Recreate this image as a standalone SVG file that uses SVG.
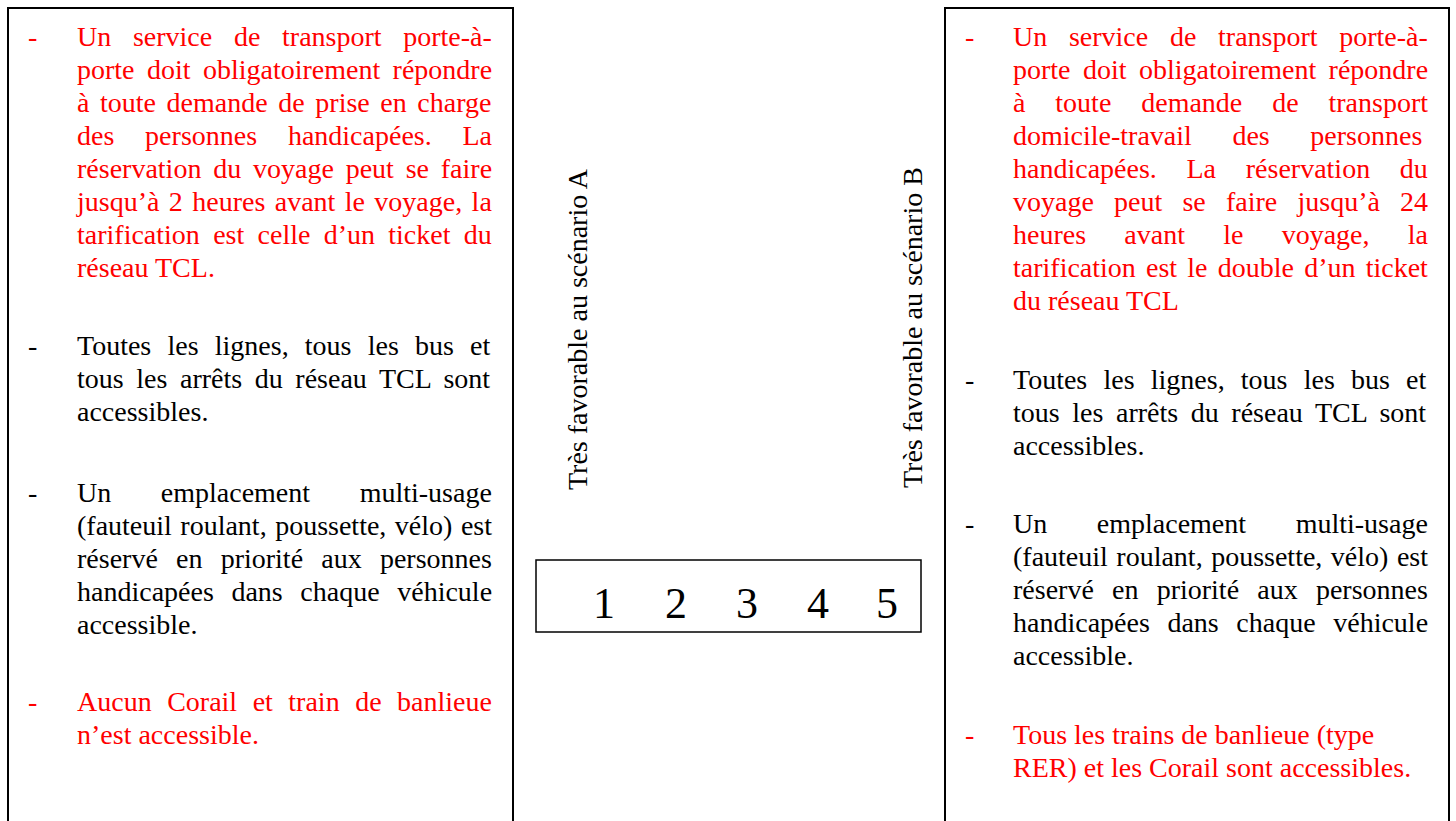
<svg xmlns="http://www.w3.org/2000/svg" width="1456" height="821" viewBox="0 0 1456 821">
<style>
.box{fill:none;stroke:#000;stroke-width:2}
.t{font-family:"Liberation Serif","Times New Roman",serif;font-size:28px;fill:#000}
.r{fill:#ff0000}
.num{font-family:"Liberation Serif","Times New Roman",serif;font-size:44px;fill:#000;text-anchor:middle}
</style>
<rect width="1456" height="821" fill="#fff"/>
<g id="scenario-A">
<rect class="box" x="8" y="8" width="505" height="830"/>
<g class="t r">
<text x="28" y="46">-</text>
<text x="77" y="46" style="word-spacing:14.7px">Un service de transport porte-à-</text>
<text x="77" y="79" style="word-spacing:5.4px">porte doit obligatoirement répondre</text>
<text x="77" y="112" style="word-spacing:3.6px">à toute demande de prise en charge</text>
<text x="77" y="145" style="word-spacing:23.8px">des personnes handicapées. La</text>
<text x="77" y="178" style="word-spacing:4.8px">réservation du voyage peut se faire</text>
<text x="77" y="211" style="word-spacing:2.4px">jusqu’à 2 heures avant le voyage, la</text>
<text x="77" y="244" style="word-spacing:6.3px">tarification est celle d’un ticket du</text>
<text x="77" y="277">réseau TCL.</text>
</g>
<g class="t">
<text x="28" y="355">-</text>
<text x="77" y="355" style="word-spacing:9.2px">Toutes les lignes, tous les bus et</text>
<text x="77" y="388" style="word-spacing:5.6px">tous les arrêts du réseau TCL sont</text>
<text x="77" y="421">accessibles.</text>
<text x="28" y="502">-</text>
<text x="77" y="502" style="word-spacing:42.6px">Un emplacement multi-usage</text>
<text x="77" y="535" style="word-spacing:1.5px">(fauteuil roulant, poussette, vélo) est</text>
<text x="77" y="568" style="word-spacing:11.2px">réservé en priorité aux personnes</text>
<text x="77" y="601" style="word-spacing:10.6px">handicapées dans chaque véhicule</text>
<text x="77" y="634">accessible.</text>
</g>
<g class="t r">
<text x="28" y="711">-</text>
<text x="77" y="711" style="word-spacing:8.5px">Aucun Corail et train de banlieue</text>
<text x="77" y="744">n’est accessible.</text>
</g>
</g>
<g id="scale">
<text class="t" transform="translate(587,490) rotate(-90)">Très favorable au scénario A</text>
<text class="t" transform="translate(922,488) rotate(-90)">Très favorable au scénario B</text>
<rect x="536" y="560" width="385" height="72" fill="none" stroke="#000" stroke-width="1.5"/>
<text class="num" x="604" y="618">1</text>
<text class="num" x="676" y="618">2</text>
<text class="num" x="747" y="618">3</text>
<text class="num" x="818" y="618">4</text>
<text class="num" x="887" y="618">5</text>
</g>
<g id="scenario-B">
<rect class="box" x="945" y="8" width="504" height="830"/>
<g class="t r">
<text x="965" y="46">-</text>
<text x="1013" y="46" style="word-spacing:14.7px">Un service de transport porte-à-</text>
<text x="1013" y="79" style="word-spacing:5.4px">porte doit obligatoirement répondre</text>
<text x="1013" y="112" style="word-spacing:22.9px">à toute demande de transport</text>
<text x="1013" y="145" style="word-spacing:33.6px">domicile-travail des personnes</text>
<text x="1013" y="178" style="word-spacing:22.7px">handicapées. La réservation du</text>
<text x="1013" y="211" style="word-spacing:13.2px">voyage peut se faire jusqu’à 24</text>
<text x="1013" y="244" style="word-spacing:31.25px">heures avant le voyage, la</text>
<text x="1013" y="277" style="word-spacing:3.2px">tarification est le double d’un ticket</text>
<text x="1013" y="310">du réseau TCL</text>
</g>
<g class="t">
<text x="965" y="389">-</text>
<text x="1013" y="389" style="word-spacing:9.2px">Toutes les lignes, tous les bus et</text>
<text x="1013" y="422" style="word-spacing:5.6px">tous les arrêts du réseau TCL sont</text>
<text x="1013" y="455">accessibles.</text>
<text x="965" y="533">-</text>
<text x="1013" y="533" style="word-spacing:42.6px">Un emplacement multi-usage</text>
<text x="1013" y="566" style="word-spacing:1.5px">(fauteuil roulant, poussette, vélo) est</text>
<text x="1013" y="599" style="word-spacing:11.2px">réservé en priorité aux personnes</text>
<text x="1013" y="632" style="word-spacing:10.6px">handicapées dans chaque véhicule</text>
<text x="1013" y="665">accessible.</text>
</g>
<g class="t r">
<text x="965" y="744">-</text>
<text x="1013" y="744">Tous les trains de banlieue (type</text>
<text x="1013" y="777">RER) et les Corail sont accessibles.</text>
</g>
</g>
</svg>
